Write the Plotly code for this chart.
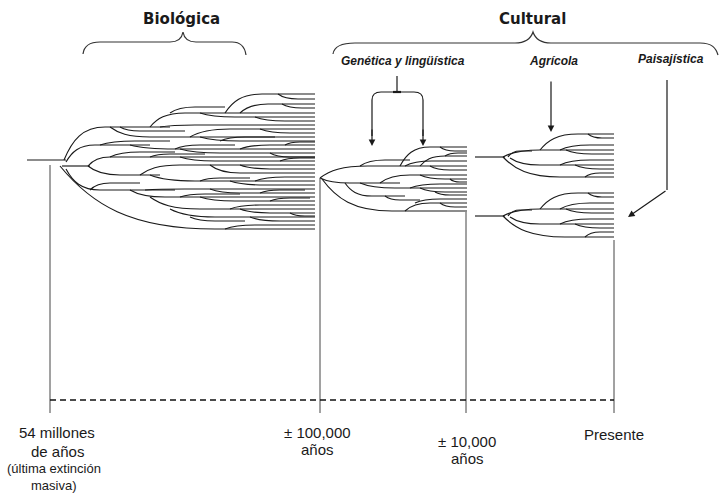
import plotly.graph_objects as go

W, H = 721, 493

# --- labels ---
diversity_groups = ["Biológica", "Cultural"]
cultural_kinds = ["Genética y lingüística", "Agrícola", "Paisajística"]
epoch_labels = [
    ["54 millones", "de años"],
    ["± 100,000", "años"],
    ["± 10,000", "años"],
    ["Presente"],
]
epoch_notes = ["(última extinción", "masiva)"]

# --- timeline (pixel coords) ---
epoch_x = [50, 320, 466, 614]
epoch_top = [165, 178, 212, 240]

# --- trees: (x start, y start, x end of bend, y of lineage, x tip) ---
bio_branches = [
    (27, 160, 27, 160, 66),
    (64, 160, 105, 127, 170),
    (60, 166, 215, 229, 315),
    (62, 166, 62, 166, 90),
    (150, 127, 185, 113, 315),
    (225, 113, 262, 94, 315),
    (278, 94, 298, 99, 315),
    (240, 113, 268, 104, 315),
    (282, 104, 302, 108, 315),
    (170, 113, 195, 107, 225),
    (200, 113, 235, 117, 315),
    (255, 117, 285, 121, 315),
    (160, 127, 195, 125, 315),
    (110, 127, 150, 137, 315),
    (120, 127, 140, 131, 185),
    (190, 137, 230, 129, 315),
    (260, 129, 290, 133, 315),
    (200, 137, 240, 141, 315),
    (220, 141, 245, 137, 275),
    (66, 162, 95, 145, 150),
    (130, 145, 175, 149, 315),
    (175, 149, 200, 145, 235),
    (240, 149, 270, 145, 315),
    (285, 145, 300, 142, 315),
    (180, 149, 220, 153, 315),
    (270, 153, 290, 157, 315),
    (100, 145, 135, 141, 170),
    (88, 166, 110, 157, 315),
    (110, 157, 140, 152, 175),
    (150, 157, 170, 154, 205),
    (180, 157, 215, 161, 315),
    (280, 161, 300, 158, 315),
    (88, 166, 120, 175, 160),
    (140, 175, 180, 165, 315),
    (150, 175, 195, 181, 315),
    (200, 181, 220, 178, 250),
    (240, 165, 270, 169, 315),
    (210, 165, 240, 173, 315),
    (255, 181, 285, 177, 315),
    (230, 181, 265, 185, 315),
    (66, 169, 100, 190, 175),
    (90, 190, 110, 183, 140),
    (130, 190, 165, 197, 315),
    (180, 197, 205, 194, 240),
    (145, 190, 185, 189, 315),
    (210, 189, 240, 193, 315),
    (260, 193, 280, 190, 305),
    (200, 197, 235, 201, 315),
    (270, 201, 290, 198, 310),
    (150, 197, 200, 209, 315),
    (230, 209, 260, 205, 315),
    (240, 209, 270, 213, 315),
    (290, 213, 305, 216, 315),
    (170, 209, 215, 217, 315),
    (190, 217, 215, 221, 245),
    (250, 217, 280, 221, 315),
    (225, 229, 255, 225, 315),
]

gen_branches = [
    (320, 178, 368, 166, 467),
    (320, 178, 350, 183, 400),
    (322, 179, 392, 211, 467),
    (400, 166, 430, 147, 467),
    (440, 147, 455, 151, 467),
    (420, 166, 445, 156, 467),
    (445, 156, 458, 153, 467),
    (405, 166, 432, 161, 467),
    (430, 166, 450, 170, 467),
    (380, 183, 410, 175, 467),
    (360, 183, 395, 188, 467),
    (420, 175, 445, 179, 467),
    (450, 179, 460, 182, 467),
    (410, 188, 440, 184, 467),
    (405, 211, 430, 203, 467),
    (420, 188, 445, 192, 467),
    (435, 192, 450, 195, 467),
    (440, 203, 455, 207, 467),
    (415, 203, 440, 199, 467),
    (360, 166, 385, 160, 410),
    (345, 183, 372, 196, 405),
    (385, 196, 400, 200, 420),
]

agr_branches = [
    (475, 157, 475, 157, 505),
    (503, 157, 540, 150, 614),
    (503, 157, 560, 177, 614),
    (540, 150, 578, 134, 614),
    (588, 134, 602, 138, 614),
    (560, 150, 590, 145, 614),
    (566, 150, 592, 154, 614),
    (510, 158, 540, 165, 614),
    (560, 165, 590, 160, 614),
    (575, 165, 600, 169, 614),
    (585, 177, 600, 173, 614),
    (508, 157, 520, 151, 532),
]

pai_branches = [
    (475, 216, 475, 216, 505),
    (503, 216, 540, 209, 614),
    (503, 216, 565, 237, 614),
    (540, 209, 578, 193, 614),
    (588, 193, 602, 197, 614),
    (560, 209, 590, 203, 614),
    (566, 209, 592, 213, 614),
    (510, 217, 540, 224, 614),
    (560, 224, 590, 219, 614),
    (575, 224, 600, 228, 614),
    (585, 237, 600, 232, 614),
    (508, 216, 520, 210, 532),
]

INK = "#1a1a1a"
SANS = "Liberation Sans, Arial, sans-serif"
TITLE_FONT = "Comic Sans MS, DejaVu Sans, sans-serif"


def branch_path(x0, y0, x1, y1, x2):
    if (x0, y0) == (x1, y1):
        return f"M{x0},{y0} L{x2},{y0}"
    dx, dy = x1 - x0, y1 - y0
    return (f"M{x0},{y0} C{x0 + 0.2 * dx},{y0 + 0.6 * dy} "
            f"{x0 + 0.45 * dx},{y1} {x1},{y1} L{x2},{y1}")


shapes = []
for tree in (bio_branches, gen_branches, agr_branches, pai_branches):
    for b in tree:
        shapes.append(dict(type="path", path=branch_path(*b), xref="x", yref="y",
                           line=dict(color=INK, width=1.15)))

# timeline verticals + dashed axis
for ex, top in zip(epoch_x, epoch_top):
    shapes.append(dict(type="line", x0=ex, x1=ex, y0=top, y1=413, xref="x", yref="y",
                       line=dict(color="#444", width=1)))
shapes.append(dict(type="line", x0=epoch_x[0], x1=epoch_x[-1], y0=400, y1=400,
                   xref="x", yref="y", line=dict(color="#111", width=1.3, dash="6px,4px")))

# braces
brace_style = dict(type="path", xref="x", yref="y", line=dict(color="#333", width=1.2))
shapes.append(dict(brace_style, path="M83,54 C84,46 90,42 100,42 L170,42 C178,42 182,38 183,32 "
                                     "C184,38 188,42 196,42 L232,42 C242,42 245,48 246,55"))
shapes.append(dict(brace_style, path="M333,54 C334,47 342,43 355,43 L515,43 C526,43 531,38 533,32 "
                                     "C535,38 540,43 551,43 L700,43 C712,43 716,48 718,55"))

# Genética bracket
shapes.append(dict(type="line", x0=397, x1=397, y0=76, y1=92, xref="x", yref="y",
                   line=dict(color=INK, width=1.2)))
shapes.append(dict(type="line", x0=393, x1=401, y0=92, y1=92, xref="x", yref="y",
                   line=dict(color=INK, width=2.2)))
shapes.append(dict(type="path", xref="x", yref="y", line=dict(color=INK, width=1.2),
                   path="M372,136 L372,100 C372,94 375,92 381,92 L414,92 C420,92 423,94 423,100 L423,136"))
# Paisajística elbow
shapes.append(dict(type="line", x0=667, x1=667, y0=80, y1=190, xref="x", yref="y",
                   line=dict(color=INK, width=1.2)))

fig = go.Figure()

annotations = []
arrow = dict(text="", showarrow=True, arrowhead=2, arrowsize=1.1, arrowwidth=1.2,
             arrowcolor=INK, xref="x", yref="y", axref="x", ayref="y", standoff=0)
annotations.append(dict(arrow, x=372, y=146, ax=372, ay=128))
annotations.append(dict(arrow, x=423, y=146, ax=423, ay=128))
annotations.append(dict(arrow, x=551, y=132, ax=551, ay=80))
annotations.append(dict(arrow, x=628, y=217, ax=667, ay=190))


def label(x, y, text, size, family=SANS):
    annotations.append(dict(x=x, y=y, text=text, showarrow=False, xref="x", yref="y",
                            xanchor="center", yanchor="middle",
                            font=dict(family=family, size=size, color=INK)))


label(181, 19, f"<b>{diversity_groups[0]}</b>", 15, TITLE_FONT)
label(532, 19, f"<b>{diversity_groups[1]}</b>", 15, TITLE_FONT)
for (x, y), kind in zip([(403, 61), (553, 61), (671, 59)], cultural_kinds):
    label(x, y, f"<b><i>{kind}</i></b>", 12)

epoch_label_pos = [(57, 432, 19), (317, 432, 17), (467, 441, 17), (614, 434, 0)]
for (x, y, step), lines in zip(epoch_label_pos, epoch_labels):
    for i, line in enumerate(lines):
        label(x, y + i * step, line, 15)
for i, note in enumerate(epoch_notes):
    label(54, 468 + i * 17, note, 13)

fig.update_layout(
    width=W, height=H,
    margin=dict(l=0, r=0, t=0, b=0),
    plot_bgcolor="white", paper_bgcolor="white",
    xaxis=dict(visible=False, range=[0, W], fixedrange=True),
    yaxis=dict(visible=False, range=[H, 0], fixedrange=True),
    shapes=shapes,
    annotations=annotations,
    showlegend=False,
)

# page body has a default 8px margin; drop it so the figure sits at 0,0
fig.write_html("out.html", config={"displayModeBar": False},
               post_script="document.body.style.margin='0';")
